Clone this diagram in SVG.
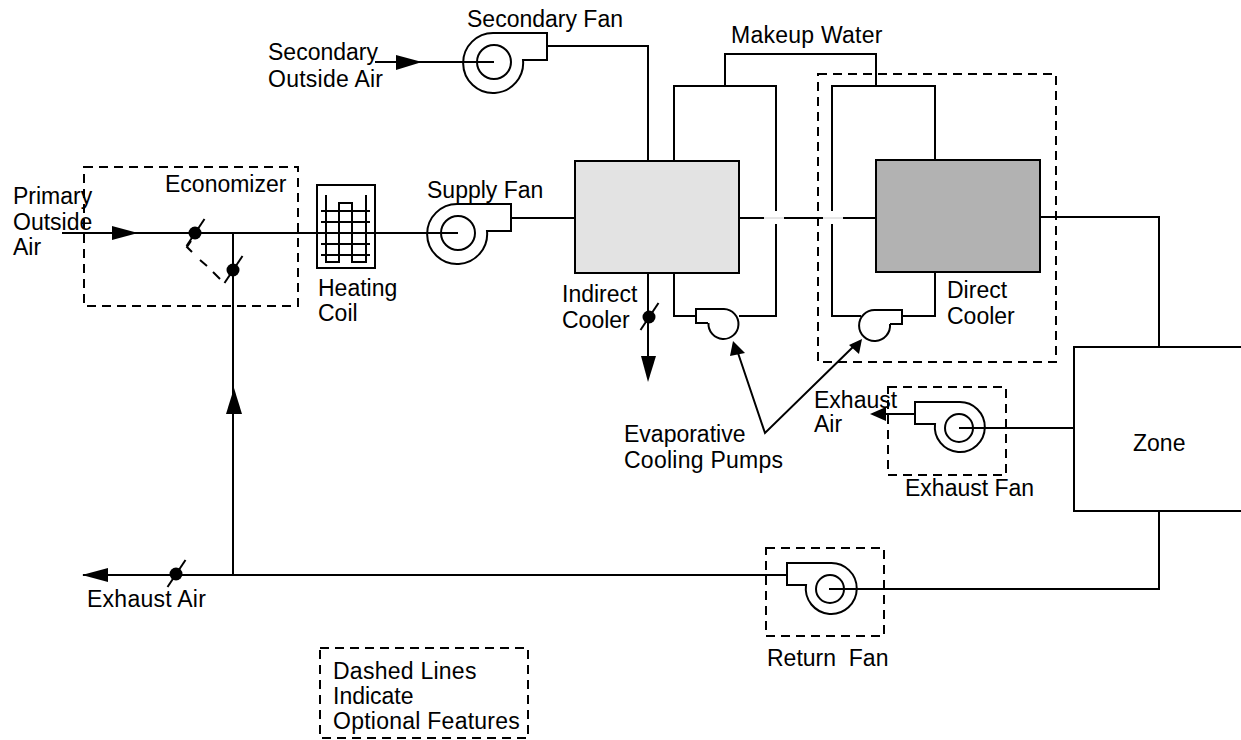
<svg xmlns="http://www.w3.org/2000/svg" width="1241" height="740" viewBox="0 0 1241 740">
<style>
.l{fill:none;stroke:#000;stroke-width:2}
.d{fill:none;stroke:#000;stroke-width:2;stroke-dasharray:9 6}
.a{fill:#000;stroke:none}
.b{fill:#000;stroke:none}
.t{font-family:"Liberation Sans",Arial,sans-serif;font-size:23px;fill:#000}
.w{letter-spacing:.25px}
</style>
<defs>
<g id="damper"><circle r="6.500" class="b"/><path class="l" d="M-8.500 13L9.500-14"/></g>
</defs>
<rect width="1241" height="740" fill="#fff"/>
<g id="connectors">
<path class="l" d="M62 233H458M233 233V575M83 575H787M375 62H494"/>
<path class="l" d="M547 46H648V161M511 218H575M739 218H764M784 218H823M843 218H876"/>
<path d="M764 218H784M823 218H843" fill="none" stroke="#ccc" stroke-width="1"/>
<path class="l" d="M674 161V86H776V211M776 224V316H739M696 316H674V273"/>
<path class="l" d="M725 86V54H876V86M832 211V86H935V160M832 224V316H861M902 316H935V272"/>
<path class="l" d="M1040 217H1159V347M1159 511V589H829M959 428H1074M915 414H880M648 273V358"/>
<path class="l" d="M737 350L765 433L855 345"/>
<path class="l" d="M192 252L187 247L191 241M200 260L207 266M213 272L220 279"/>
<path class="a" d="M112 226L138 233L112 240Z"/>
<path class="a" d="M396 55L422 62L396 70Z"/>
<path class="a" d="M226 414L234 388L242 414Z"/>
<path class="a" d="M108 568L82 575L108 582Z"/>
<path class="a" d="M641 356H656L648 382Z"/>
<path class="a" d="M870 414L886 407V421Z"/>
<path class="a" d="M733 341L745 353L730 356Z"/>
<path class="a" d="M862 339L849 345L859 354Z"/>
</g>
<g id="economizer"><rect class="d" x="84" y="167" width="214" height="139"/><text class="t" x="165" y="192">Economizer</text></g>
<g id="primary-air"><text class="t" x="13" y="204">Primary</text><text class="t" x="13" y="230">Outside</text><text class="t" x="13" y="255">Air</text></g>
<g id="damper-1"><use href="#damper" x="195" y="233"/></g>
<g id="damper-2"><use href="#damper" x="233" y="270"/></g>
<g id="damper-3"><use href="#damper" x="176" y="574"/></g>
<g id="damper-4"><use href="#damper" x="649" y="317"/></g>
<g id="heating-coil"><rect class="l" x="317" y="185" width="58" height="83"/><path class="l" d="M326 195V262H339V203H352V262H366V195M321 211H370M321 222H370M321 244H370M321 255H370"/><text class="t" x="318" y="296">Heating</text><text class="t" x="318" y="321">Coil</text></g>
<g id="supply-fan"><circle class="l" cx="458" cy="233" r="17"/><path class="l" d="M487 231H511V204H458A30 30 0 1 0 487 231Z"/><text class="t" x="427" y="198">Supply Fan</text></g>
<g id="secondary-fan"><circle class="l" cx="494" cy="62" r="17"/><path class="l" d="M523 60H547V33H494A30 30 0 1 0 523 60Z"/><text class="t" x="467" y="27">Secondary Fan</text></g>
<g id="secondary-air"><text class="t" x="268" y="60">Secondary</text><text class="t w" x="268" y="87">Outside Air</text></g>
<g id="makeup"><text class="t w" x="731" y="43">Makeup Water</text></g>
<g id="indirect-cooler"><rect x="575" y="161" width="164" height="112" fill="#e3e3e3" stroke="#000" stroke-width="2"/><text class="t" x="562" y="302">Indirect</text><text class="t" x="562" y="328">Cooler</text></g>
<g id="direct-box"><rect class="d" x="818" y="74" width="238" height="288"/></g>
<g id="direct-cooler"><rect x="876" y="160" width="164" height="112" fill="#b2b2b2" stroke="#000" stroke-width="2"/><text class="t" x="947" y="298">Direct</text><text class="t" x="947" y="324">Cooler</text></g>
<g id="pump-1"><path class="l" d="M708 323H696V309H724A15 15 0 1 1 708.500 323"/></g>
<g id="pump-2"><path class="l" d="M890 324H902V310H875A15.500 15.500 0 1 0 890 324"/></g>
<g id="pumps-label"><text class="t" x="624" y="442">Evaporative</text><text class="t w" x="624" y="468">Cooling Pumps</text></g>
<g id="exhaust-fan"><rect class="d" x="888" y="387" width="118" height="88"/><circle class="l" cx="959" cy="428" r="14"/><path class="l" d="M935 424H915V402H959A25 25 0 1 1 935 424Z"/><text class="t" x="905" y="496">Exhaust Fan</text></g>
<g id="exhaust-air"><text class="t" x="814" y="408">Exhaust</text><text class="t" x="814" y="432">Air</text></g>
<g id="zone"><rect class="l" x="1074" y="347" width="168" height="164"/><text class="t" x="1133" y="451">Zone</text></g>
<g id="return-fan"><rect class="d" x="766" y="548" width="118" height="88"/><circle class="l" cx="830" cy="589" r="14"/><path class="l" d="M806 585H787V563H830A25.500 25.500 0 1 1 806 585Z"/><text class="t" x="767" y="666" xml:space="preserve">Return  Fan</text></g>
<g id="exhaust-label"><text class="t w" x="87" y="607">Exhaust Air</text></g>
<g id="legend"><rect class="d" x="320" y="648" width="208" height="90"/><text class="t w" x="333" y="679">Dashed Lines</text><text class="t" x="333" y="704">Indicate</text><text class="t w" x="333" y="729">Optional Features</text></g>
</svg>
